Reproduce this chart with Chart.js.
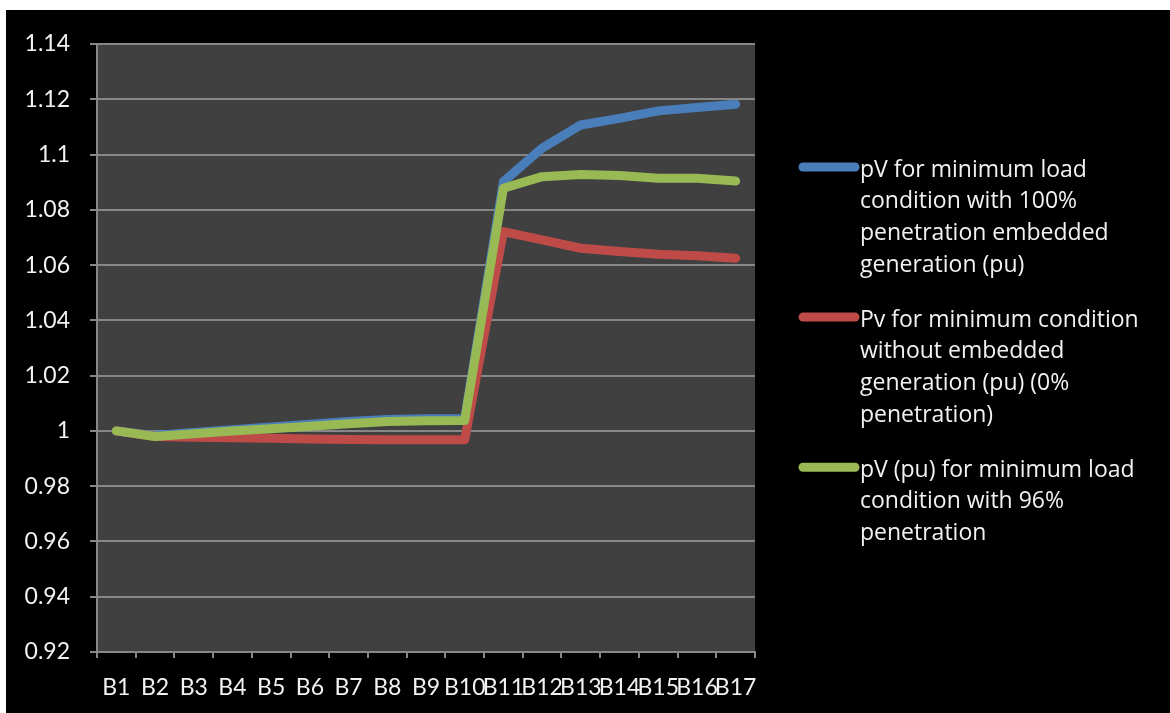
<!DOCTYPE html>
<html>
<head>
<meta charset="utf-8">
<script src="https://cdn.jsdelivr.net/npm/chart.js@4.4.1/dist/chart.umd.min.js"></script>
<style>
  html, body { margin: 0; padding: 0; background: #ffffff; }
  #wrap { position: absolute; left: 6px; top: 10px; width: 1164px; height: 703px; background: #000000; }
  canvas { display: block; }
</style>
</head>
<body>
<div id="wrap"><canvas id="chart" width="1164" height="703"></canvas></div>
<script>
// Bus names along the feeder
const buses = ['B1', 'B2', 'B3', 'B4', 'B5', 'B6', 'B7', 'B8', 'B9', 'B10',
               'B11', 'B12', 'B13', 'B14', 'B15', 'B16', 'B17'];

// Bus voltages (pu)
const pv100 = [1.0000, 0.9983, 0.9994, 1.0004, 1.0014, 1.0024, 1.0034, 1.0041, 1.0044, 1.0045,
               1.0902, 1.1023, 1.1107, 1.1131, 1.1158, 1.1170, 1.1182];
const pv0   = [1.0000, 0.9980, 0.9977, 0.9975, 0.9973, 0.9971, 0.9969, 0.9968, 0.9968, 0.9968,
               1.0721, 1.0691, 1.0661, 1.0649, 1.0639, 1.0634, 1.0625];
const pv96  = [1.0000, 0.9980, 0.9990, 1.0000, 1.0008, 1.0017, 1.0026, 1.0034, 1.0037, 1.0038,
               1.0878, 1.0920, 1.0928, 1.0924, 1.0914, 1.0914, 1.0904];

// Value axis ticks
const yTicks = [0.92, 0.94, 0.96, 0.98, 1.00, 1.02, 1.04, 1.06, 1.08, 1.10, 1.12, 1.14];

// Series names, wrapped as they appear in the legend
const seriesNames = [
  ['pV for minimum load', 'condition with 100%', 'penetration embedded', 'generation (pu)'],
  ['Pv for minimum condition', 'without embedded', 'generation (pu) (0%', 'penetration)'],
  ['pV (pu) for minimum load', 'condition with 96%', 'penetration']
];

const colors = ['#4a7ebb', '#be4b48', '#98b954'];
const FONT = 'Lato, "Open Sans", sans-serif';
const LEGEND_FONT = '"Open Sans", Lato, sans-serif';
const TEXT = '#f2f2f2';
const GRID = '#878787';

// Dark plot-area fill behind the grid
const plotBackground = {
  id: 'plotBackground',
  beforeDraw(chart) {
    const { ctx, chartArea: a } = chart;
    ctx.save();
    ctx.fillStyle = '#404040';
    ctx.fillRect(a.left, a.top, a.right - a.left, a.bottom - a.top);
    ctx.restore();
  }
};

// Multi-line legend on the right
const wrappedLegend = {
  id: 'wrappedLegend',
  afterDraw(chart) {
    const ctx = chart.ctx;
    const lineH = 31.7, gap = 23.3;
    let y = 160;
    ctx.save();
    ctx.font = '23px ' + LEGEND_FONT;
    ctx.textBaseline = 'middle';
    ctx.textAlign = 'left';
    chart.data.datasets.forEach((ds) => {
      ctx.strokeStyle = ds.borderColor;
      ctx.lineWidth = 9;
      ctx.lineCap = 'round';
      ctx.beginPath();
      ctx.moveTo(797, y - 3);
      ctx.lineTo(849, y - 3);
      ctx.stroke();
      ctx.fillStyle = TEXT;
      ds.label.forEach((line, k) => ctx.fillText(line, 854, y + k * lineH));
      y += ds.label.length * lineH + gap;
    });
    ctx.restore();
  }
};

const makeSet = (label, data, color, order) => ({
  label, data,
  borderColor: color,
  backgroundColor: color,
  borderWidth: 9,
  borderCapStyle: 'round',
  borderJoinStyle: 'round',
  pointRadius: 0,
  tension: 0,
  fill: false,
  order
});

new Chart(document.getElementById('chart'), {
  type: 'line',
  data: {
    labels: buses,
    datasets: [
      makeSet(seriesNames[0], pv100, colors[0], 3),
      makeSet(seriesNames[1], pv0, colors[1], 2),
      makeSet(seriesNames[2], pv96, colors[2], 1)
    ]
  },
  options: {
    responsive: false,
    animation: false,
    devicePixelRatio: 1,
    layout: { padding: { top: 34, right: 415, left: 0, bottom: 0 } },
    plugins: { legend: { display: false }, tooltip: { enabled: false } },
    scales: {
      x: {
        type: 'category',
        offset: true,
        afterFit(scale) { scale.height = 61; },
        grid: { offset: true, drawOnChartArea: false, drawTicks: true, tickLength: 6, color: GRID, lineWidth: 2 },
        border: { color: GRID, width: 2 },
        ticks: {
          color: TEXT, font: { family: FONT, size: 23 },
          autoSkip: false, maxRotation: 0, minRotation: 0, padding: 16
        }
      },
      y: {
        min: 0.92,
        max: 1.14,
        afterFit(scale) { scale.width = 91; },
        afterBuildTicks(scale) { scale.ticks = yTicks.map(v => ({ value: v })); },
        grid: { color: GRID, lineWidth: 2, drawTicks: true, tickLength: 7 },
        border: { color: GRID, width: 2 },
        ticks: {
          color: TEXT, font: { family: FONT, size: 23 }, padding: 20,
          callback: v => String(+(+v).toFixed(2))
        }
      }
    }
  },
  plugins: [plotBackground, wrappedLegend]
});
</script>
</body>
</html>
